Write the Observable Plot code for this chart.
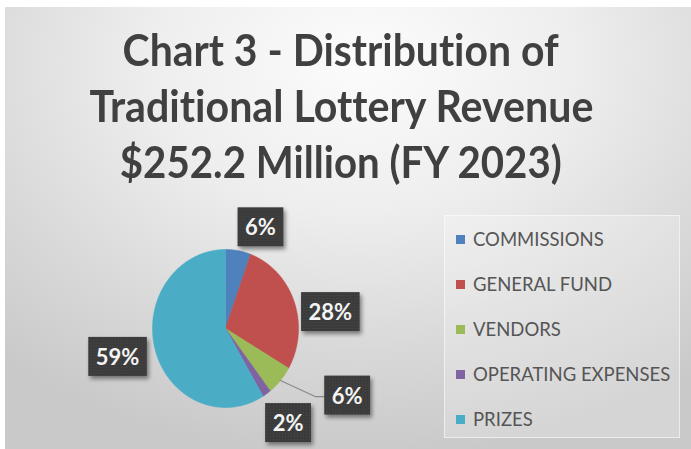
<!DOCTYPE html>
<html><head><meta charset="utf-8">
<script src="https://cdn.jsdelivr.net/npm/d3@7"></script>
<script src="https://cdn.jsdelivr.net/npm/@observablehq/plot@0.6"></script>
<style>
html,body{margin:0;padding:0;background:#fff;width:691px;height:449px;overflow:hidden;}
#card{position:absolute;left:5px;top:7px;width:686px;height:442px;
 background:radial-gradient(ellipse 80% 90% at 52% 12%, #fcfcfc 0%, #eeeeee 38%, #d9d9d9 72%, #c9c9c9 100%);}
#title{position:absolute;left:0;top:21px;width:682px;text-align:center;font-family:Lato,sans-serif;font-weight:700;
 font-size:44px;line-height:56px;color:#404040;font-variant-ligatures:none;font-feature-settings:"liga" 0, "clig" 0;}
#title div{display:block;}
#title span{display:inline-block;transform-origin:50% 50%;}
#legend{position:absolute;left:444px;top:215px;width:236px;height:223px;background:rgba(255,255,255,0.22);
 border:1px solid rgba(255,255,255,0.55);box-sizing:border-box;font-family:Lato,sans-serif;font-size:18.5px;color:#555555;}
.li{position:absolute;left:11px;height:20px;display:flex;align-items:center;white-space:nowrap;}
.sw{width:9px;height:9px;margin-right:8px;flex:none;}
#chart{position:absolute;left:0;top:0;}
</style></head>
<body>
<div id="card"></div>
<div id="title"></div>
<div id="legend"></div>
<div id="chart"></div>
<script>
const titleLines = ["Chart 3 - Distribution of", "Traditional Lottery Revenue", "$252.2 Million (FY 2023)"];
const categories = ["COMMISSIONS", "GENERAL FUND", "VENDORS", "OPERATING EXPENSES", "PRIZES"];
const shares = [5.6, 27.8, 6.1, 1.9, 58.6];
const colors = ["#4f81bd", "#c0504d", "#9bbb59", "#8064a2", "#4bacc6"];

// layout (pixels)
const titleWidths = [436, 504, 442];
const labelNudge = [[19, -3], [19, 18], [53, 3], [11, 14], [-20, 3]];
const rx = 73, ry = 79, cx = 225, cy = 328;

// title
const tEl = document.getElementById("title");
titleLines.forEach((t, i) => {
  const d = document.createElement("div");
  const s = document.createElement("span");
  s.textContent = t; d.appendChild(s); tEl.appendChild(d);
  const w = s.getBoundingClientRect().width;
  s.style.transform = `scaleX(${titleWidths[i] / w})`;
});

// legend
const lg = document.getElementById("legend");
categories.forEach((c, i) => {
  const d = document.createElement("div");
  d.className = "li";
  d.style.top = (13 + i * 45) + "px";
  d.innerHTML = `<span class="sw" style="background:${colors[i]}"></span><span>${c}</span>`;
  lg.appendChild(d);
});

// pie geometry from values
const arcs = d3.pie().sort(null)(shares);
const slicePts = [];
arcs.forEach((a, i) => {
  const cat = categories[i];
  slicePts.push({cat, x: 0, y: 0});
  const n = Math.max(2, Math.ceil((a.endAngle - a.startAngle) / 0.01));
  for (let k = 0; k <= n; k++) {
    const t = a.startAngle + (a.endAngle - a.startAngle) * k / n;
    slicePts.push({cat, x: Math.sin(t), y: Math.cos(t)});
  }
  slicePts.push({cat, x: 0, y: 0});
});
const fmt = v => Math.round(v) + "%";
const labels = arcs.map((a, i) => {
  const m = (a.startAngle + a.endAngle) / 2;
  const r = 1.25;
  return {
    cat: categories[i], text: fmt(shares[i]), mid: m,
    x: r * Math.sin(m) + labelNudge[i][0] / rx,
    y: r * Math.cos(m) - labelNudge[i][1] / ry
  };
});
const v = labels[2];
const leader = [
  {x: Math.sin(v.mid), y: Math.cos(v.mid)},
  {x: v.x - 32 / rx, y: v.y},
  {x: v.x - 21 / rx, y: v.y}
];

const plot = Plot.plot({
  width: 691, height: 449,
  margin: 0,
  style: {background: "transparent", overflow: "visible"},
  x: {domain: [-1, 1], range: [cx - rx, cx + rx], axis: null},
  y: {domain: [-1, 1], range: [cy + ry, cy - ry], axis: null},
  color: {domain: categories, range: colors},
  marks: [
    Plot.line(slicePts, {x: "x", y: "y", z: "cat", fill: "cat", stroke: "cat", strokeWidth: 0.6, curve: "linear"}),
    Plot.line(leader, {x: "x", y: "y", stroke: "#8a8a8a", strokeWidth: 1.2}),
    Plot.text(labels, {x: "x", y: "y", text: "text", fill: "#f4f4f4", fontSize: 22, fontWeight: "bold",
      fontFamily: "Lato, sans-serif", className: "pielabels"})
  ]
});
document.getElementById("chart").appendChild(plot);

// boxes behind labels
const ns = "http://www.w3.org/2000/svg";
const defs = document.createElementNS(ns, "defs");
defs.innerHTML = `<pattern id="dots" width="3" height="3" patternUnits="userSpaceOnUse">
<rect width="3" height="3" fill="#3b3b3b"/><rect width="1" height="1" fill="#4a4a4a"/></pattern>
<filter id="sh" x="-30%" y="-30%" width="160%" height="170%"><feDropShadow dx="2" dy="3" stdDeviation="2" flood-color="#000" flood-opacity="0.45"/></filter>`;
plot.insertBefore(defs, plot.firstChild);
plot.querySelectorAll(".pielabels text").forEach(t => {
  const b = t.getBBox();
  const r = document.createElementNS(ns, "rect");
  const w = b.width + 15, h = 39;
  const tr = t.getAttribute("transform");
  if (tr) r.setAttribute("transform", tr);
  r.setAttribute("x", b.x + b.width / 2 - w / 2);
  r.setAttribute("y", b.y + b.height / 2 - h / 2);
  r.setAttribute("width", w); r.setAttribute("height", h);
  r.setAttribute("fill", "url(#dots)");
  r.setAttribute("filter", "url(#sh)");
  t.parentNode.insertBefore(r, t);
});
</script>
</body></html>
